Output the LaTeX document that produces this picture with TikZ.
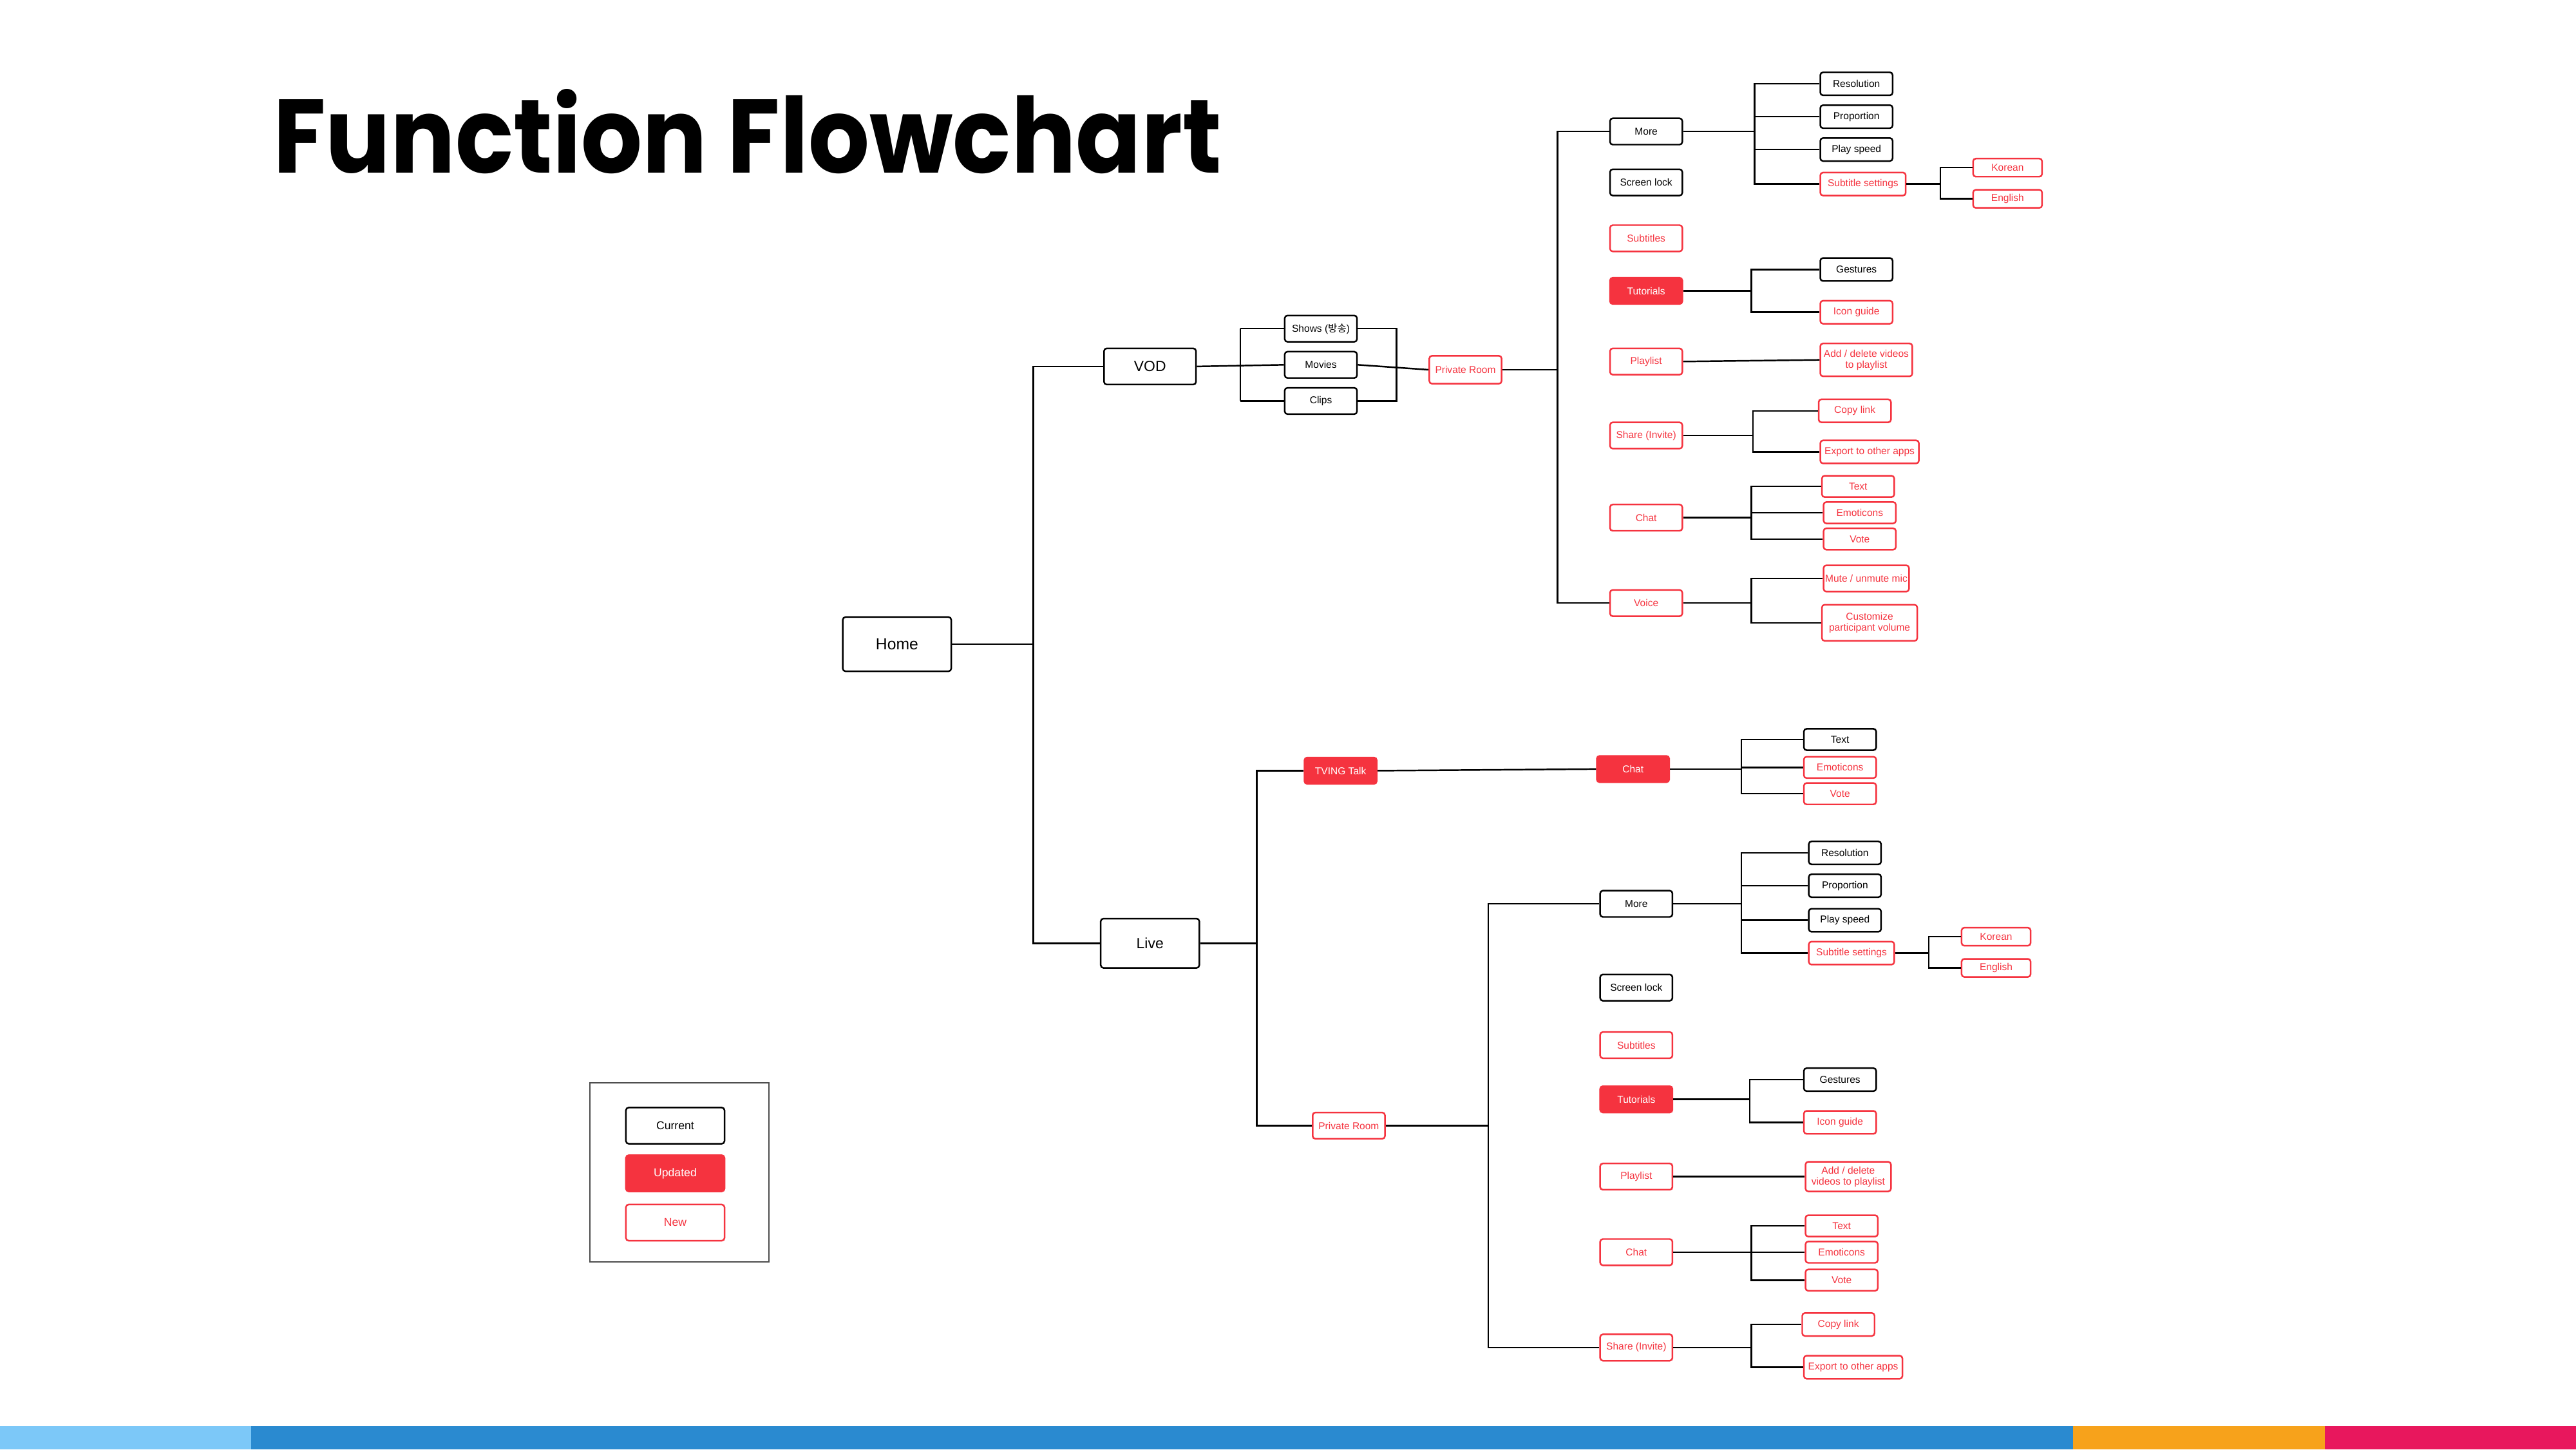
\documentclass[tikz,border=0pt]{standalone}
\usepackage{fontspec}
\setmainfont{Liberation Sans}
\newfontfamily\titlefont{Poppins}[UprightFont=* Bold]
\newfontfamily\cjk{Noto Sans CJK KR}
\usetikzlibrary{positioning}
\definecolor{tred}{HTML}{F5333F}
\newcommand\branch[3]{\foreach \c in {#3}{\draw[link] (#1.east) -- (#2 |- #1.east) |- (\c.west);}}
\begin{document}
\begin{tikzpicture}[x=0.0254cm,y=-0.0254cm,
    link/.style={line width=0.7pt},
    sz/.style 2 args={minimum width=#1*0.0254cm,minimum height=#2*0.0254cm,inner sep=0.5pt,
                      rounded corners=1.2pt,line width=0.7pt,align=center,
                      font=\fontsize{4.4}{4.8}\selectfont},
    cur/.style={draw=black,fill=white,text=black},
    upd/.style={draw=tred,fill=tred,text=white},
    nw/.style={draw=tred,fill=white,text=tred}
  ]
  \useasboundingbox (0,0) rectangle (1568,882);
  % bottom bar
  \fill[color={rgb,255:red,124;green,200;blue,248}] (0,868) rectangle (153,882);
  \fill[color={rgb,255:red,42;green,138;blue,208}] (153,868) rectangle (1262,882);
  \fill[color={rgb,255:red,247;green,162;blue,27}] (1262,868) rectangle (1415,882);
  \fill[color={rgb,255:red,232;green,23;blue,93}] (1415,868) rectangle (1568,882);
  % title
  \node[anchor=west,inner sep=0pt,xscale=0.92,font=\titlefont\fontsize{46}{50}\selectfont] (title) at (166,80) {Function Flowchart};

  % root
  \node[cur,sz={66}{33},font=\fontsize{7}{8}\selectfont] (home) at (546,392) {Home};
  \node[cur,sz={56}{22},font=\fontsize{6.5}{7}\selectfont] (vod) at (700,223) {VOD};
  \node[cur,sz={60}{30},font=\fontsize{6.5}{7}\selectfont] (live) at (700,574) {Live};
  \coordinate (bh) at (629,392);
  \branch{home}{bh}{vod,live}

  % VOD
  \node[cur,sz={44}{16}] (shows) at (804,200) {Shows ({\cjk 방송})};
  \node[cur,sz={44}{16}] (movies) at (804,222) {Movies};
  \node[cur,sz={44}{16}] (clips) at (804,244) {Clips};
  \coordinate (bv) at (755,222);
  \draw[link] (vod.east) -- (movies.west);
  \draw[link] (bv |- shows.west) -- (shows.west);
  \draw[link] (bv |- clips.west) -- (clips.west);
  \draw[link] (bv |- shows.west) -- (bv |- clips.west);
  \node[nw,sz={44}{17}] (vpr) at (892,225) {Private Room};
  \coordinate (bc) at (850,222);
  \draw[link] (shows.east) -| (bc) |- (clips.east);
  \draw[link] (movies.east) -- (vpr.west);

  \node[cur,sz={44}{16}] (vmore) at (1002,80) {More};
  \node[cur,sz={44}{16}] (vlock) at (1002,111) {Screen lock};
  \node[nw,sz={44}{16}] (vsub) at (1002,145) {Subtitles};
  \node[upd,sz={44}{16}] (vtut) at (1002,177) {Tutorials};
  \node[nw,sz={44}{16}] (vplay) at (1002,220) {Playlist};
  \node[nw,sz={44}{16}] (vshare) at (1002,265) {Share (Invite)};
  \node[nw,sz={44}{16}] (vchat) at (1002,315) {Chat};
  \node[nw,sz={44}{16}] (vvoice) at (1002,367) {Voice};
  \coordinate (bvp) at (948,225);
  \branch{vpr}{bvp}{vmore,vvoice}

  \node[cur,sz={44}{14}] (vres) at (1130,51) {Resolution};
  \node[cur,sz={44}{14}] (vprop) at (1130,71) {Proportion};
  \node[cur,sz={44}{14}] (vspeed) at (1130,91) {Play speed};
  \node[nw,sz={52}{14}] (vsset) at (1134,112) {Subtitle settings};
  \coordinate (bvm) at (1068,80);
  \branch{vmore}{bvm}{vres,vprop,vspeed,vsset}
  \node[nw,sz={42}{11}] (vkor) at (1222,102) {Korean};
  \node[nw,sz={42}{11}] (veng) at (1222,121) {English};
  \coordinate (bvs) at (1181,112);
  \branch{vsset}{bvs}{vkor,veng}

  \node[cur,sz={44}{14}] (vgest) at (1130,164) {Gestures};
  \node[nw,sz={44}{14}] (vicon) at (1130,190) {Icon guide};
  \coordinate (bvt) at (1066,177);
  \branch{vtut}{bvt}{vgest,vicon}
  \node[nw,sz={56}{20}] (vadd) at (1136,219) {Add / delete videos\\to playlist};
  \draw[link] (vplay.east) -- (vadd.west);
  \node[nw,sz={44}{14}] (vcopy) at (1129,250) {Copy link};
  \node[nw,sz={60}{14}] (vexp) at (1138,275) {Export to other apps};
  \coordinate (bvsh) at (1067,265);
  \branch{vshare}{bvsh}{vcopy,vexp}
  \node[nw,sz={44}{13}] (vtext) at (1131,296) {Text};
  \node[nw,sz={44}{13}] (vemo) at (1132,312) {Emoticons};
  \node[nw,sz={44}{13}] (vvote) at (1132,328) {Vote};
  \coordinate (bvc) at (1066,315);
  \branch{vchat}{bvc}{vtext,vemo,vvote}
  \node[nw,sz={52}{16}] (vmute) at (1136,352) {Mute / unmute mic};
  \node[nw,sz={58}{22}] (vcust) at (1138,379) {Customize\\participant volume};
  \coordinate (bvv) at (1066,367);
  \branch{vvoice}{bvv}{vmute,vcust}

  % Live
  \node[upd,sz={44}{16}] (ltalk) at (816,469) {TVING Talk};
  \node[nw,sz={44}{16}] (lpr) at (821,685) {Private Room};
  \coordinate (bl) at (765,574);
  \branch{live}{bl}{ltalk,lpr}
  \node[upd,sz={44}{16}] (ltchat) at (994,468) {Chat};
  \draw[link] (ltalk.east) -- (ltchat.west);
  \node[cur,sz={44}{13}] (lttext) at (1120,450) {Text};
  \node[nw,sz={44}{13}] (ltemo) at (1120,467) {Emoticons};
  \node[nw,sz={44}{13}] (ltvote) at (1120,483) {Vote};
  \coordinate (blt) at (1060,468);
  \branch{ltchat}{blt}{lttext,ltemo,ltvote}

  \node[cur,sz={44}{16}] (lmore) at (996,550) {More};
  \node[cur,sz={44}{16}] (llock) at (996,601) {Screen lock};
  \node[nw,sz={44}{16}] (lsub) at (996,636) {Subtitles};
  \node[upd,sz={44}{16}] (ltut) at (996,669) {Tutorials};
  \node[nw,sz={44}{16}] (lplay) at (996,716) {Playlist};
  \node[nw,sz={44}{16}] (lchat) at (996,762) {Chat};
  \node[nw,sz={44}{16}] (lshare) at (996,820) {Share (Invite)};
  \coordinate (blp) at (906,685);
  \branch{lpr}{blp}{lmore,lshare}

  \node[cur,sz={44}{14}] (lres) at (1123,519) {Resolution};
  \node[cur,sz={44}{14}] (lprop) at (1123,539) {Proportion};
  \node[cur,sz={44}{14}] (lspeed) at (1123,560) {Play speed};
  \node[nw,sz={52}{14}] (lsset) at (1127,580) {Subtitle settings};
  \coordinate (blm) at (1060,550);
  \branch{lmore}{blm}{lres,lprop,lspeed,lsset}
  \node[nw,sz={42}{11}] (lkor) at (1215,570) {Korean};
  \node[nw,sz={42}{11}] (leng) at (1215,589) {English};
  \coordinate (bls) at (1174,580);
  \branch{lsset}{bls}{lkor,leng}

  \node[cur,sz={44}{14}] (lgest) at (1120,657) {Gestures};
  \node[nw,sz={44}{14}] (licon) at (1120,683) {Icon guide};
  \coordinate (blt2) at (1065,669);
  \branch{ltut}{blt2}{lgest,licon}
  \node[nw,sz={52}{18}] (ladd) at (1125,716) {Add / delete\\videos to playlist};
  \draw[link] (lplay.east) -- (ladd.west);
  \node[nw,sz={44}{13}] (ltext) at (1121,746) {Text};
  \node[nw,sz={44}{13}] (lemo) at (1121,762) {Emoticons};
  \node[nw,sz={44}{13}] (lvote) at (1121,779) {Vote};
  \coordinate (blc) at (1066,762);
  \branch{lchat}{blc}{ltext,lemo,lvote}
  \node[nw,sz={44}{14}] (lcopy) at (1119,806) {Copy link};
  \node[nw,sz={60}{14}] (lexp) at (1128,832) {Export to other apps};
  \coordinate (blsh) at (1066,820);
  \branch{lshare}{blsh}{lcopy,lexp}

  % legend
  \draw[line width=0.7pt,draw=black!70] (359,659) rectangle (468,768);
  \node[cur,sz={60}{22},font=\fontsize{5}{6}\selectfont] (kcur) at (411,685) {Current};
  \node[upd,sz={60}{22},font=\fontsize{5}{6}\selectfont] (kupd) at (411,714) {Updated};
  \node[nw,sz={60}{22},font=\fontsize{5}{6}\selectfont] (knew) at (411,744) {New};
\end{tikzpicture}
\end{document}
